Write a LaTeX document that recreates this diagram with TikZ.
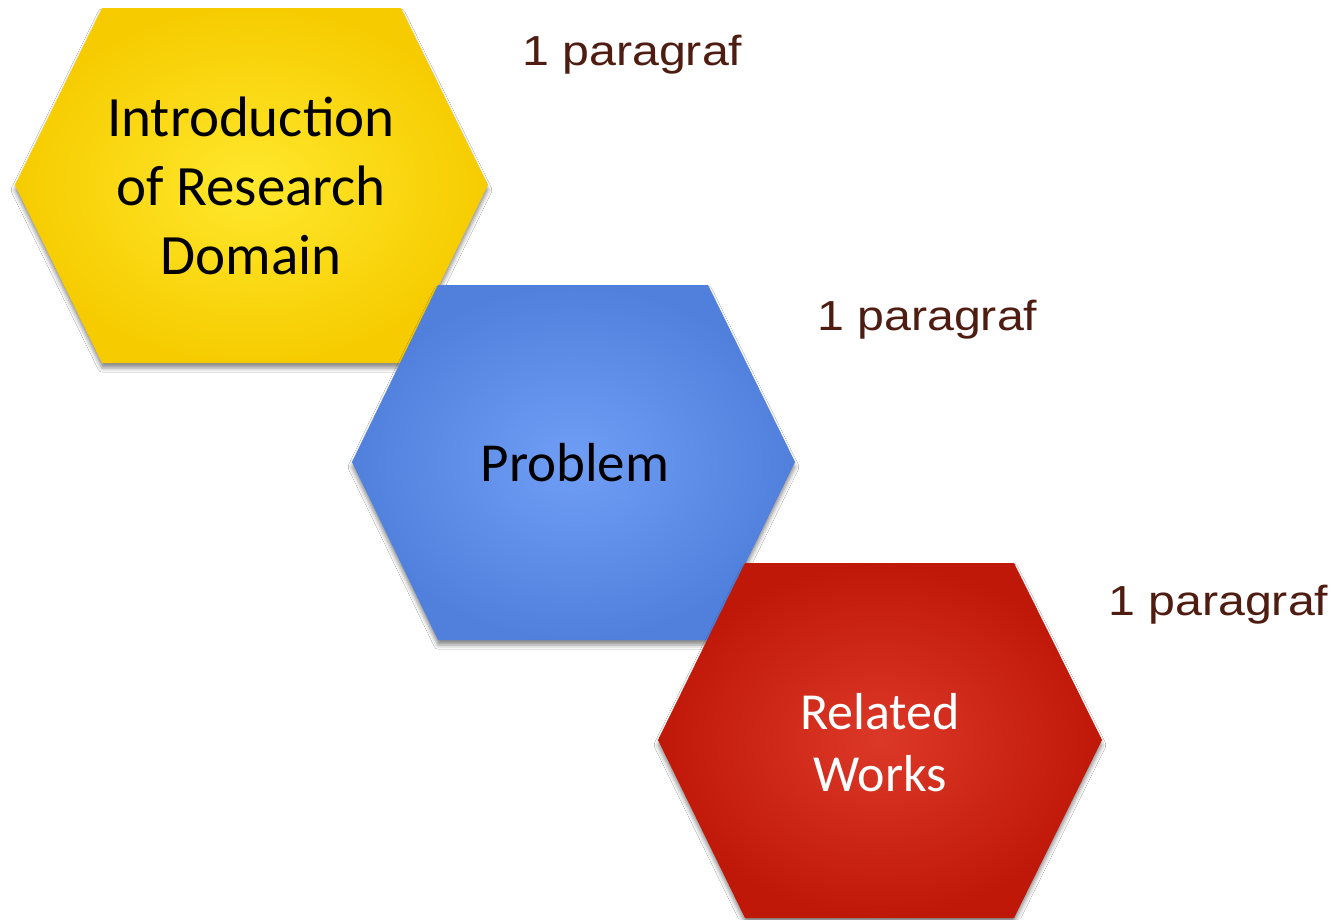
\documentclass[tikz,border=0pt]{standalone}
\usepackage{fontspec}
\setmainfont{Carlito}
\newfontfamily\labelfont{Liberation Sans}
\usetikzlibrary{shadows.blur}
\definecolor{yelIn}{RGB}{255,232,45}
\definecolor{yelOut}{RGB}{246,204,0}
\definecolor{bluIn}{RGB}{112,158,246}
\definecolor{bluOut}{RGB}{80,128,220}
\definecolor{redIn}{RGB}{220,56,40}
\definecolor{redOut}{RGB}{192,24,8}
\definecolor{lblcol}{RGB}{78,28,16}
\begin{document}
\begin{tikzpicture}[x=1pt,y=-1pt,
  hexshape/.style={blur shadow={shadow xshift=0pt,shadow yshift=-5pt,shadow blur radius=4pt,shadow opacity=45}},
  hextext/.style={align=center,inner sep=0pt,text=black},
  paralabel/.style={anchor=base west,inner sep=0pt,font=\labelfont\fontsize{42}{50}\selectfont,text=lblcol}]
\fill[white] (0,0) rectangle (1338,919);
\useasboundingbox (0,0) rectangle (1338,919);
% yellow hexagon
\shade[hexshape,inner color=yelIn,outer color=yelOut]
  (15,185) -- (102,8) -- (401,8) -- (488,185) -- (401,363) -- (102,363) -- cycle;
\node[hextext,font=\fontsize{57}{69}\selectfont] (intro) at (251,186) {Introduction\\of Research\\Domain};
% blue hexagon
\shade[hexshape,inner color=bluIn,outer color=bluOut]
  (352,462) -- (438,285) -- (708,285) -- (795,462) -- (708,640) -- (438,640) -- cycle;
\node[hextext,font=\fontsize{55}{65}\selectfont] (problem) at (575,463) {Problem};
% red hexagon
\shade[hexshape,inner color=redIn,outer color=redOut]
  (658,740) -- (745,563) -- (1014,563) -- (1102,740) -- (1014,918) -- (745,918) -- cycle;
\node[hextext,text=white,font=\fontsize{52}{62}\selectfont] (related) at (880,743) {Related\\Works};
% labels
\node[paralabel] (p1) at (522,65) {\scalebox{1.15}[1]{1 paragraf}};
\node[paralabel] (p2) at (817,330) {\scalebox{1.15}[1]{1 paragraf}};
\node[paralabel] (p3) at (1108,615) {\scalebox{1.15}[1]{1 paragraf}};
\end{tikzpicture}
\end{document}
